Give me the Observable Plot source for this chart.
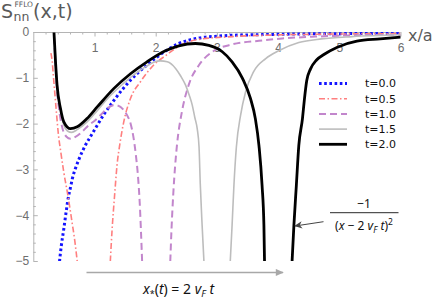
<!DOCTYPE html>
<html><head><meta charset="utf-8">
<script src="https://cdn.jsdelivr.net/npm/d3@7"></script>
<script src="https://cdn.jsdelivr.net/npm/@observablehq/plot@0.6"></script>
<style>body{margin:0;background:#fff} svg{display:block}</style>
</head><body><div id="chart"></div>
<script>
// ---- data ----
const tLabels = ["t=0.0", "t=0.5", "t=1.0", "t=1.5", "t=2.0"];
const xTicks = [1, 2, 3, 4, 5, 6];
const yTicks = [0, -1, -2, -3, -4, -5];

// t = 0.0 (single branch)
const x_t00 = [0.42,0.45,0.49,0.53,0.56,0.60,0.63,0.68,0.74,0.84,0.95,1.04,1.15,1.31,1.45,1.58,1.72,1.85,2.00,2.18,2.37,2.55,2.70,3.00,3.24,3.60,3.95,4.50,5.00,5.50,6.00];
const y_t00 = [-5.0,-4.65,-4.29,-3.9,-3.63,-3.38,-3.19,-2.97,-2.76,-2.47,-2.22,-2.02,-1.78,-1.48,-1.24,-1.04,-0.86,-0.71,-0.55,-0.38,-0.24,-0.16,-0.12,-0.08,-0.06,-0.05,-0.04,-0.03,-0.025,-0.02,-0.02];

// t = 0.5
const x_t05L = [0.28,0.30,0.32,0.345,0.37,0.40,0.44,0.49,0.56,0.62,0.67,0.71];
const y_t05L = [-0.45,-0.62,-0.95,-1.35,-1.75,-2.2,-2.6,-3.05,-3.58,-4.1,-4.55,-5.0];
const x_t05R = [1.25,1.28,1.32,1.36,1.41,1.47,1.58,1.74,1.96,2.18,2.42,2.70,3.24,3.79,4.50,5.20,6.00];
const y_t05R = [-5.0,-4.29,-3.56,-2.9,-2.4,-1.95,-1.44,-1.08,-0.71,-0.48,-0.26,-0.15,-0.09,-0.06,-0.04,-0.03,-0.025];

// t = 1.0
const x_t10L = [0.33,0.355,0.38,0.42,0.47,0.53,0.60,0.68,0.78,0.90,1.00,1.10,1.20,1.30,1.38,1.46,1.53,1.58,1.63,1.67,1.70,1.73,1.75,1.77];
const y_t10L = [-0.1,-0.7,-1.25,-1.75,-2.1,-2.27,-2.32,-2.28,-2.18,-2.02,-1.92,-1.79,-1.66,-1.59,-1.6,-1.68,-1.82,-1.98,-2.3,-2.7,-3.1,-3.7,-4.3,-5.0];
const x_t10R = [2.23,2.25,2.28,2.31,2.34,2.42,2.53,2.70,2.92,3.24,3.68,4.06,4.60,5.30,6.00];
const y_t10R = [-5.0,-4.3,-3.5,-2.9,-2.45,-1.73,-1.15,-0.71,-0.42,-0.26,-0.18,-0.13,-0.09,-0.06,-0.05];

// t = 1.5
const x_t15L = [0.33,0.36,0.385,0.44,0.49,0.55,0.62,0.71,0.87,1.04,1.20,1.31,1.45,1.58,1.72,1.85,1.96,2.07,2.18,2.32,2.40,2.48,2.54,2.59,2.63,2.67,2.70,2.72,2.75,2.78];
const y_t15L = [0,-0.66,-1.18,-1.72,-2.02,-2.15,-2.18,-2.12,-1.95,-1.7,-1.45,-1.3,-1.13,-0.98,-0.84,-0.73,-0.65,-0.62,-0.64,-0.79,-0.95,-1.15,-1.37,-1.59,-1.85,-2.1,-2.5,-3.3,-4.2,-5.0];
const x_t15R = [3.21,3.24,3.27,3.31,3.38,3.46,3.59,3.79,4.00,4.33,4.70,5.20,6.00];
const y_t15R = [-5.0,-4.21,-3.34,-2.5,-1.8,-1.3,-0.86,-0.57,-0.4,-0.22,-0.14,-0.09,-0.05];

// t = 2.0
const x_t20L = [0.33,0.355,0.38,0.436,0.49,0.60,0.71,0.87,1.04,1.31,1.58,1.85,2.15,2.37,2.64,2.86,3.08,3.24,3.41,3.54,3.62,3.68,3.73,3.76,3.77];
const y_t20L = [0,-0.64,-1.15,-1.66,-1.95,-2.1,-2.06,-1.88,-1.62,-1.22,-0.9,-0.64,-0.4,-0.29,-0.24,-0.28,-0.42,-0.64,-1.0,-1.44,-1.88,-2.48,-3.34,-4.21,-5.0];
const x_t20R = [4.22,4.25,4.29,4.33,4.39,4.42,4.46,4.52,4.62,4.74,4.96,5.28,5.66,6.00];
const y_t20R = [-5.0,-4.21,-3.34,-2.47,-1.88,-1.48,-1.05,-0.8,-0.6,-0.48,-0.32,-0.19,-0.14,-0.1];

// ---- styles ----
const styles = [
  {stroke: "#1414ff", width: 3,   dash: "2.6,2.6"},
  {stroke: "#ff7f7f", width: 1.6, dash: "6,2.5,1.5,2.5"},
  {stroke: "#c286cc", width: 2,   dash: "7,4"},
  {stroke: "#bdbdbd", width: 1.6, dash: null},
  {stroke: "#000000", width: 2.8, dash: null}
];

const branches = [
  [[x_t00, y_t00]],
  [[x_t05L, y_t05L], [x_t05R, y_t05R]],
  [[x_t10L, y_t10L], [x_t10R, y_t10R]],
  [[x_t15L, y_t15L], [x_t15R, y_t15R]],
  [[x_t20L, y_t20L], [x_t20R, y_t20R]]
];

function rows(i) {
  const out = [];
  branches[i].forEach(([xs, ys], b) => xs.forEach((x, k) => out.push({x, y: ys[k], b})));
  return out;
}

const W = 436, H = 302, mL = 33.3, mR = 35.5, mT = 32, mB = 41;
const innerW = W - mL - mR, innerH = H - mT - mB;
const xMinor = d3.range(1, 30).map(k => k / 5).filter(v => Math.abs(v - Math.round(v)) > 1e-9);
const yMinor = d3.range(1, 25).map(k => -k / 5).filter(v => Math.abs(v - Math.round(v)) > 1e-9);
const axisGray = "#b4b4b4", labelGray = "#6e6e6e";

const lineMarks = styles.map((s, i) => Plot.line(rows(i), {
  x: "x", y: "y", z: "b", stroke: s.stroke, strokeWidth: s.width,
  strokeDasharray: s.dash, strokeLinecap: "butt", strokeLinejoin: "round",
  curve: "monotone-x", clip: true
}));

const svgEl = Plot.plot({
  width: W, height: H,
  marginLeft: mL, marginRight: mR, marginTop: mT, marginBottom: mB,
  x: {domain: [0, 6], axis: null},
  y: {domain: [-5, 0], axis: null},
  style: {background: "white", overflow: "visible"},
  marks: [
    Plot.ruleY([0], {stroke: axisGray}),
    Plot.ruleX([0], {stroke: axisGray}),
    Plot.tickX(xMinor, {x: d => d, stroke: axisGray, insetBottom: innerH - 2.5}),
    Plot.tickX(xTicks, {x: d => d, stroke: axisGray, insetBottom: innerH - 4.5}),
    Plot.tickY(yMinor, {y: d => d, stroke: axisGray, insetRight: innerW - 2.5}),
    Plot.tickY(yTicks.slice(1), {y: d => d, stroke: axisGray, insetRight: innerW - 4.5}),
    Plot.text(xTicks, {x: d => d, text: d => String(d), frameAnchor: "top", dy: 11,
      fill: labelGray, fontSize: 12, fontFamily: "Liberation Sans"}),
    Plot.text(yTicks, {y: d => d, text: d => d === 0 ? "0" : "\u2212" + (-d), frameAnchor: "left",
      textAnchor: "end", dx: -4.5, fill: labelGray, fontSize: 12, fontFamily: "Liberation Sans"}),
    ...lineMarks
  ]
});
document.getElementById("chart").appendChild(svgEl);

const svg = d3.select(svgEl);

// title S_nn^FFLO(x,t)
const title = svg.append("text").attr("x", 1).attr("y", 17.5).attr("text-anchor", "start")
  .attr("font-family", "DejaVu Sans").attr("fill", "#5a5a5a").attr("font-size", 19);
title.append("tspan").text("S");
title.append("tspan").attr("x", 14.5).attr("y", 6.5).attr("font-size", 7.5).text("FFLO");
title.append("tspan").attr("x", 13.5).attr("y", 21).attr("font-size", 12.5).text("nn");
title.append("tspan").attr("x", 33).attr("y", 17.5).text("(x,t)");

// x/a axis label
svg.append("text").attr("x", 408).attr("y", 40.5).attr("text-anchor", "start").attr("font-family", "DejaVu Sans")
  .attr("font-size", 16).attr("fill", "#5a5a5a").text("x/a");

// legend
tLabels.forEach((lab, i) => {
  const yy = 83.5 + i * 15.2, s = styles[i];
  svg.append("line").attr("x1", 319).attr("x2", 347).attr("y1", yy).attr("y2", yy)
    .attr("stroke", s.stroke).attr("stroke-width", s.width)
    .attr("stroke-dasharray", s.dash);
  svg.append("text").attr("x", 365).attr("y", yy).attr("dy", "0.36em").attr("text-anchor", "start")
    .attr("font-family", "DejaVu Sans").attr("font-size", 11).attr("fill", "#111").text(lab);
});

// arrowheads
const defs = svg.append("defs");
defs.append("marker").attr("id", "ahGray").attr("viewBox", "0 0 10 10").attr("refX", 9).attr("refY", 5)
  .attr("markerWidth", 9).attr("markerHeight", 8).attr("markerUnits", "userSpaceOnUse").attr("orient", "auto")
  .append("path").attr("d", "M0,0.5 L10,5 L0,9.5 z").attr("fill", "#a8a8a8");
defs.append("marker").attr("id", "ahDark").attr("viewBox", "0 0 10 10").attr("refX", 9).attr("refY", 5)
  .attr("markerWidth", 9).attr("markerHeight", 8).attr("markerUnits", "userSpaceOnUse").attr("orient", "auto")
  .append("path").attr("d", "M0,0.5 L10,5 L0,9.5 L3,5 z").attr("fill", "#444");

// bottom arrow and label
svg.append("line").attr("x1", 86.5).attr("x2", 283).attr("y1", 272.5).attr("y2", 272.5)
  .attr("stroke", "#a8a8a8").attr("stroke-width", 1.6).attr("marker-end", "url(#ahGray)");
const bl = svg.append("text").attr("x", 178.5).attr("y", 293.5).attr("text-anchor", "middle")
  .attr("font-family", "Noto Sans").attr("font-size", 14).attr("fill", "#111");
bl.append("tspan").attr("font-style", "italic").text("x");
bl.append("tspan").attr("font-size", 9).attr("dy", 3).text("*");
bl.append("tspan").attr("dy", -3).text("(");
bl.append("tspan").attr("font-style", "italic").text("t");
bl.append("tspan").text(") = 2 ");
bl.append("tspan").attr("font-style", "italic").text("v");
bl.append("tspan").attr("font-style", "italic").attr("font-size", 9.5).attr("dy", 3).text("F");
bl.append("tspan").attr("font-style", "italic").attr("dy", -3).text(" t");

// fraction annotation -1/(x-2 v_F t)^2
svg.append("text").attr("x", 364).attr("y", 207.5).attr("text-anchor", "middle")
  .attr("font-family", "Noto Sans").attr("font-size", 12).attr("fill", "#111").text("\u22121");
svg.append("line").attr("x1", 330).attr("x2", 398.5).attr("y1", 212.7).attr("y2", 212.7)
  .attr("stroke", "#111").attr("stroke-width", 0.9);
const den = svg.append("text").attr("x", 364).attr("y", 230).attr("text-anchor", "middle")
  .attr("font-family", "Noto Sans").attr("font-size", 12).attr("fill", "#111");
den.append("tspan").text("(");
den.append("tspan").attr("font-style", "italic").text("x");
den.append("tspan").text(" \u2212 2 ");
den.append("tspan").attr("font-style", "italic").text("v");
den.append("tspan").attr("font-style", "italic").attr("font-size", 8.5).attr("dy", 2.5).text("F");
den.append("tspan").attr("font-style", "italic").attr("dy", -2.5).text(" t");
den.append("tspan").text(")");
den.append("tspan").attr("font-size", 8.5).attr("dy", -5).text("2");
svg.append("line").attr("x1", 323.5).attr("y1", 221.7).attr("x2", 295).attr("y2", 226)
  .attr("stroke", "#444").attr("stroke-width", 1).attr("marker-end", "url(#ahDark)");
</script>
</body></html>
